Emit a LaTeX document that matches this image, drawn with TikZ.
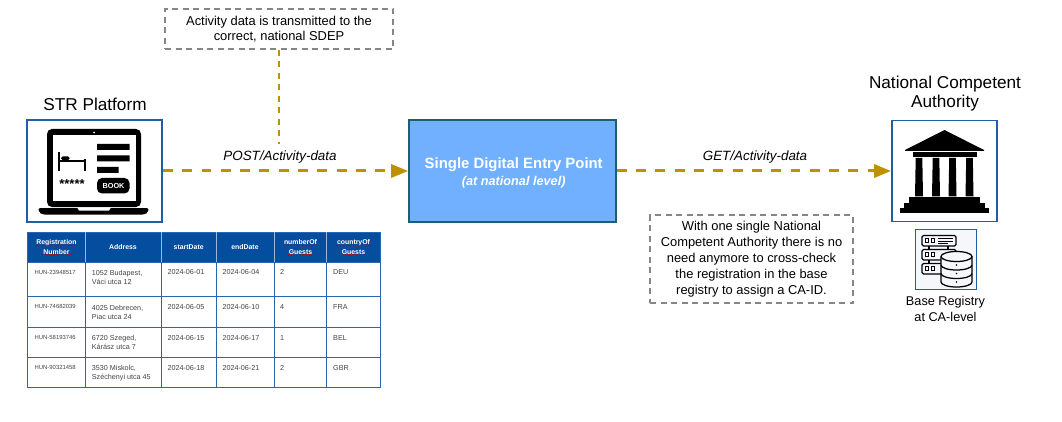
\documentclass[tikz,border=0pt]{standalone}
\usepackage{fontspec}
\setmainfont{Liberation Sans}
\usetikzlibrary{arrows.meta,decorations.pathmorphing}
\definecolor{flow}{HTML}{BF9000}
\definecolor{note}{HTML}{868686}
\definecolor{frameblue}{HTML}{1F5FA8}
\definecolor{sdepfill}{HTML}{70B0FF}
\definecolor{sdepline}{HTML}{1F5F6B}
\definecolor{tablehead}{HTML}{054D9F}
\definecolor{tableline}{HTML}{2A66B0}
\definecolor{cellink}{HTML}{444444}
\definecolor{regfill}{HTML}{F5F7FA}
\newcommand{\fs}[1]{\fontsize{#1}{#1}\selectfont}
\tikzset{
  x=1pt,y=-1pt,
  iconbox/.style={draw=frameblue,line width=1.9pt,fill=white,minimum width=#1,inner sep=0pt},
  notebox/.style={draw=note,line width=1.6pt,dash pattern=on 6pt off 4.5pt,fill=white,align=center,inner sep=0pt,font=\fs{12.9}},
  flowline/.style={draw=flow,line width=3pt,dash pattern=on 9.9pt off 9.4pt,-{Triangle[length=17pt,width=13pt,fill=flow]}},
  leader/.style={draw=flow,line width=2pt,dash pattern=on 6pt off 5.5pt},
  caption/.style={align=center,font=\fs{17.2}},
  flowlabel/.style={font=\fs{13.4}\itshape},
  head/.style={text=white,font=\fs{6.9}\bfseries,align=center,inner sep=0pt},
  cell/.style={text=cellink,font=\fs{7.2},align=left,anchor=north west,inner sep=0pt},
  idcell/.style={text=cellink,font=\fs{5.9},anchor=north west,inner sep=0pt},
  squig/.style={draw=red!85!black,line width=.45pt,decorate,decoration={snake,amplitude=.55pt,segment length=2.2pt}},
}
\begin{document}
\begin{tikzpicture}
\useasboundingbox (0,0) rectangle (1062,422);
\fill[white] (0,0) rectangle (1062,422);

% main boxes
\node[iconbox=135pt,minimum height=102pt] (str) at (94.5,171) {};
\node[draw=sdepline,line width=1.6pt,fill=sdepfill,minimum width=207pt,minimum height=102pt,inner sep=0pt] (sdep) at (512.5,171) {};
\node[align=center,text=white,inner sep=0pt] (sdeplabel) at (513.7,172.6)
  {{\fs{14.9}\bfseries Single Digital Entry Point}\\[3.4pt]{\fs{12.7}\bfseries\itshape (at national level)}};
\node[iconbox=105pt,minimum height=101pt] (nca) at (944.5,171) {};
\node[draw=frameblue,line width=1pt,fill=regfill,minimum width=61pt,minimum height=60pt,inner sep=0pt] (reg) at (945.5,259) {};

% captions
\node[caption] (strcap) at (95,104) {STR Platform};
\node[caption,align=center] (ncacap) at (945,93.5) {National Competent\\[2.4pt]Authority};
\node[align=center,font=\fs{12.7}] (regcap) at (945.5,309) {Base Registry\\[3pt]at CA-level};

% notes
\node[notebox,minimum width=228pt,minimum height=40pt] (note1) at (279,29) {Activity data is transmitted to the\\[2.1pt]correct, national SDEP};
\node[notebox,minimum width=203pt,minimum height=88pt] (note2) at (751.5,259) {With one single National\\[3.1pt]Competent Authority there is no\\[3.1pt]need anymore to cross-check\\[3.1pt]the registration in the base\\[3.1pt]registry to assign a CA-ID.};

% connectors
\coordinate (leaderend) at (279,144);
\draw[leader] (note1.south) -- (leaderend);
\draw[flowline] (str.east) -- (sdep.west);
\draw[flowline] (sdep.east) -- (nca.west);
\node[flowlabel] (postlabel) at (280,157) {POST/Activity-data};
\node[flowlabel] (getlabel) at (755,157) {GET/Activity-data};

% laptop icon
\begin{scope}
\fill[black,rounded corners=5pt] (47,129) rectangle (141,207);
\fill[white] (52.5,135) rectangle (135.5,200.5);
\fill[white] (94,132.5) circle (1pt);
\fill[black,rounded corners=2.5pt] (38,208) -- (149,208) -- (148,212) -- (145,214.5) -- (42,214.5) -- (39,212) -- cycle;
\fill[white] (77,207.5) -- (111,207.5) -- (109,210.5) -- (79,210.5) -- cycle;
\fill[black] (97,144) rectangle (129.5,150) (97,155.5) rectangle (129.5,161.5) (97,167) rectangle (118.5,173);
\fill[black] (58,152) rectangle (59.5,171);
\fill[black] (59,160.5) rectangle (85,162);
\fill[black] (84,159) rectangle (85.5,171);
\fill[black,rounded corners=1.5pt] (61,156.5) rectangle (69.5,160);
\fill[black,rounded corners=5pt] (97,178) rectangle (129.5,193.5);
\node[text=white,font=\fs{7.3}\bfseries,inner sep=0pt] (book) at (113.5,185.8) {BOOK};
\node[font=\fs{13}\bfseries,inner sep=0pt] (stars) at (72,184.5) {*****};
\end{scope}

% temple icon
\begin{scope}
\fill[black] (905,150) -- (944.5,130) -- (984,150) -- (984,151) -- (905,151) -- cycle;
\fill[black] (913,152.5) rectangle (977,157);
\foreach \cx in {919,936,952.5,969.5}{
  \fill[black] (\cx-3.3,158) -- (\cx+3.3,158) -- (\cx+4,196.5) -- (\cx-4,196.5) -- cycle;
}
\fill[black] (909,197) rectangle (980,203);
\fill[black] (904,203) rectangle (985,208);
\fill[black] (900,208) rectangle (988.5,213);
\end{scope}

% registry icon
\begin{scope}[line width=1.25pt]
\foreach \ty in {235.5,249.5,263.5}{
  \draw[rounded corners=1.5pt] (922,\ty) rectangle (956,\ty+10.5);
  \draw[line width=1pt] (925,\ty+3) rectangle (928,\ty+7) (931,\ty+3) rectangle (934,\ty+7);
}
\draw[line width=1pt] (938,238.5) -- (953,238.5) (938,241) -- (953,241) (938,243.5) -- (948,243.5);
\draw (929,246) -- (929,249.5) (948,246) -- (948,249.5) (929,260) -- (929,263.5);
\fill[regfill] (941,252) rectangle (972,287);
\draw[fill=regfill] (941,256.5) -- (941,282) arc[start angle=180,end angle=360,x radius=15.5,y radius=-5] -- (972,256.5);
\draw[fill=regfill] (956.5,256.5) ellipse[x radius=15.5,y radius=5];
\draw (941,265) arc[start angle=180,end angle=360,x radius=15.5,y radius=-5];
\draw (941,273.5) arc[start angle=180,end angle=360,x radius=15.5,y radius=-5];
\fill (956.5,265) circle (.8pt) (956.5,273.5) circle (.8pt) (956.5,282) circle (.8pt);
\end{scope}

% table
\fill[tablehead] (27,232) rectangle (380,262);
\draw[tableline,line width=1pt] (27,232) rectangle (380,387);
\foreach \ly in {262,296,327,357}{\draw[tableline,line width=1pt] (27,\ly) -- (380,\ly);}
\foreach \lx in {85,161,216,274,326}{\draw[tableline,line width=.9pt] (\lx,262) -- (\lx,387);}
\foreach \lx in {85,161,216,274,326}{\draw[white!60!tablehead,line width=.6pt] (\lx,232) -- (\lx,262);}

\node[head] (h1) at (56.5,247) {Registration\\[2.8pt]Number};
\node[head] (h2) at (123,247) {Address};
\node[head] (h3) at (188.7,247) {startDate};
\node[head] (h4) at (245,247) {endDate};
\node[head] (h5) at (300.5,247) {numberOf\\[2.8pt]Guests};
\node[head] (h6) at (353.5,247) {countryOf\\[2.8pt]Guests};
\foreach \ax/\bx/\sy in {35/78/245.5,43/71/255,283/318/245.5,288/313/255,335/372/245.5,341/365/255}{
  \draw[squig] (\ax,\sy) -- (\bx,\sy);
}

\node[idcell] (r1a) at (34.5,269.7) {HUN-23948517};
\node[cell] (r1b) at (91.7,269.7) {1052 Budapest,\\[2.2pt]Váci utca 12};
\node[cell] (r1c) at (167.3,269.7) {2024-06-01};
\node[cell] (r1d) at (222.3,269.7) {2024-06-04};
\node[cell] (r1e) at (280,269.7) {2};
\node[cell] (r1f) at (333,269.7) {DEU};

\node[idcell] (r2a) at (34.5,303.7) {HUN-74682039};
\node[cell] (r2b) at (91.7,304.7) {4025 Debrecen,\\[2.2pt]Piac utca 24};
\node[cell] (r2c) at (167.3,304.7) {2024-06-05};
\node[cell] (r2d) at (222.3,304.7) {2024-06-10};
\node[cell] (r2e) at (280,304.7) {4};
\node[cell] (r2f) at (333,304.7) {FRA};

\node[idcell] (r3a) at (34.5,334.7) {HUN-58193746};
\node[cell] (r3b) at (91.7,335) {6720 Szeged,\\[2.2pt]Kárász utca 7};
\node[cell] (r3c) at (167.3,335) {2024-06-15};
\node[cell] (r3d) at (222.3,335) {2024-06-17};
\node[cell] (r3e) at (280,335) {1};
\node[cell] (r3f) at (333,335) {BEL};

\node[idcell] (r4a) at (34.5,364.7) {HUN-90321458};
\node[cell] (r4b) at (91.7,365) {3530 Miskolc,\\[2.2pt]Széchenyi utca 45};
\node[cell] (r4c) at (167.3,365) {2024-06-18};
\node[cell] (r4d) at (222.3,365) {2024-06-21};
\node[cell] (r4e) at (280,365) {2};
\node[cell] (r4f) at (333,365) {GBR};
\end{tikzpicture}
\end{document}
